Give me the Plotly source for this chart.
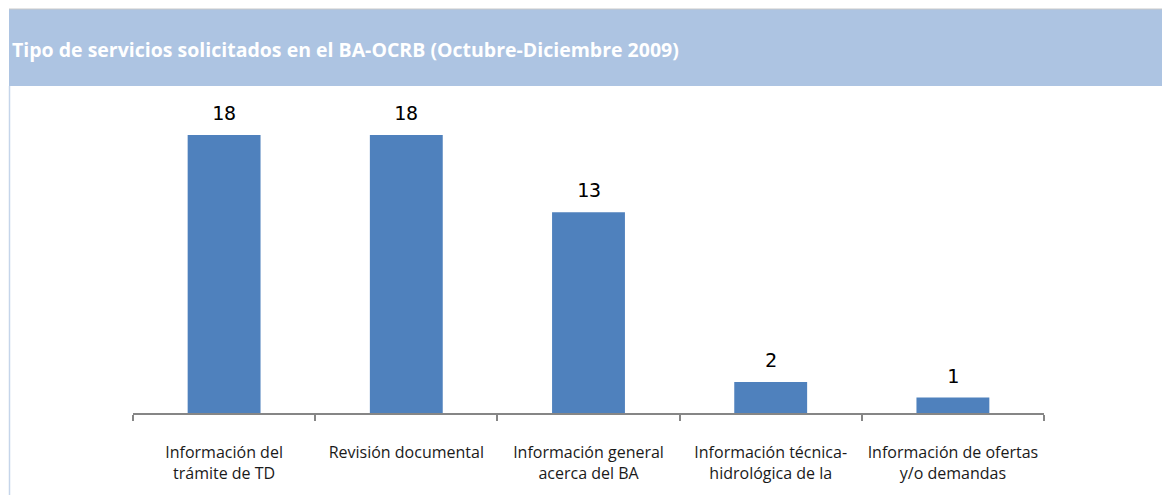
import plotly.graph_objects as go

categories = [
    "Información del<br>trámite de TD",
    "Revisión documental",
    "Información general<br>acerca del BA",
    "Información técnica-<br>hidrológica de la",
    "Información de ofertas<br>y/o demandas",
]
values = [18, 18, 13, 2, 1]
title_text = "Tipo de servicios solicitados en el BA-OCRB (Octubre-Diciembre 2009)"

# page body has an 8px margin, so the figure sits at (8, 8)
W, H = 1162, 487
L, R, T, B = 125, 126, 96, 82
pw, ph = W - L - R, H - T - B


def px_x(x):
    return (x - L) / pw


def px_y(y):
    return (H - B - y) / ph


fig = go.Figure()
fig.add_trace(go.Bar(
    x=categories,
    y=values,
    marker_color="#4f81bd",
    marker_line_width=0,
    width=0.4,
    hoverinfo="skip",
))

# value labels above bars
for c, v in zip(categories, values):
    fig.add_annotation(
        x=c, y=v, text=str(v), showarrow=False,
        yanchor="bottom", yshift=8,
        font=dict(family="DejaVu Sans Mono", size=20, color="#000000"),
    )

# header band and left border
fig.add_shape(type="rect", xref="paper", yref="paper",
              x0=px_x(1), x1=px_x(1170), y0=px_y(78), y1=px_y(1),
              fillcolor="#adc4e2", line=dict(width=0), layer="below")
fig.add_shape(type="line", xref="paper", yref="paper",
              x0=px_x(1), x1=px_x(1170), y0=px_y(1), y1=px_y(1),
              line=dict(color="#c8c8c8", width=1))
fig.add_shape(type="line", xref="paper", yref="paper",
              x0=px_x(1.5), x1=px_x(1.5), y0=px_y(78), y1=px_y(500),
              line=dict(color="#c5d5ea", width=1.5))
fig.add_annotation(
    xref="paper", yref="paper", x=px_x(2), y=px_y(41),
    xanchor="left", yanchor="middle", showarrow=False,
    text="<b>" + title_text + "</b>",
    font=dict(family="Open Sans", size=19.5, color="#ffffff"),
)

fig.update_layout(
    width=W, height=H,
    margin=dict(l=L, r=R, t=T, b=B),
    paper_bgcolor="#ffffff",
    plot_bgcolor="#ffffff",
    showlegend=False,
    xaxis=dict(
        showline=True, linecolor="#868686", linewidth=2,
        ticks="outside", tickson="boundaries", ticklen=6, tickcolor="#868686", tickwidth=2,
        ticklabelstandoff=24, tickangle=0, automargin=False,
        tickfont=dict(family="Open Sans", size=16, color="#1a1a1a"),
        showgrid=False, fixedrange=True,
    ),
    yaxis=dict(
        range=[0, 20], visible=False, showgrid=False, zeroline=False, fixedrange=True,
    ),
)

fig.write_html("out.html")
